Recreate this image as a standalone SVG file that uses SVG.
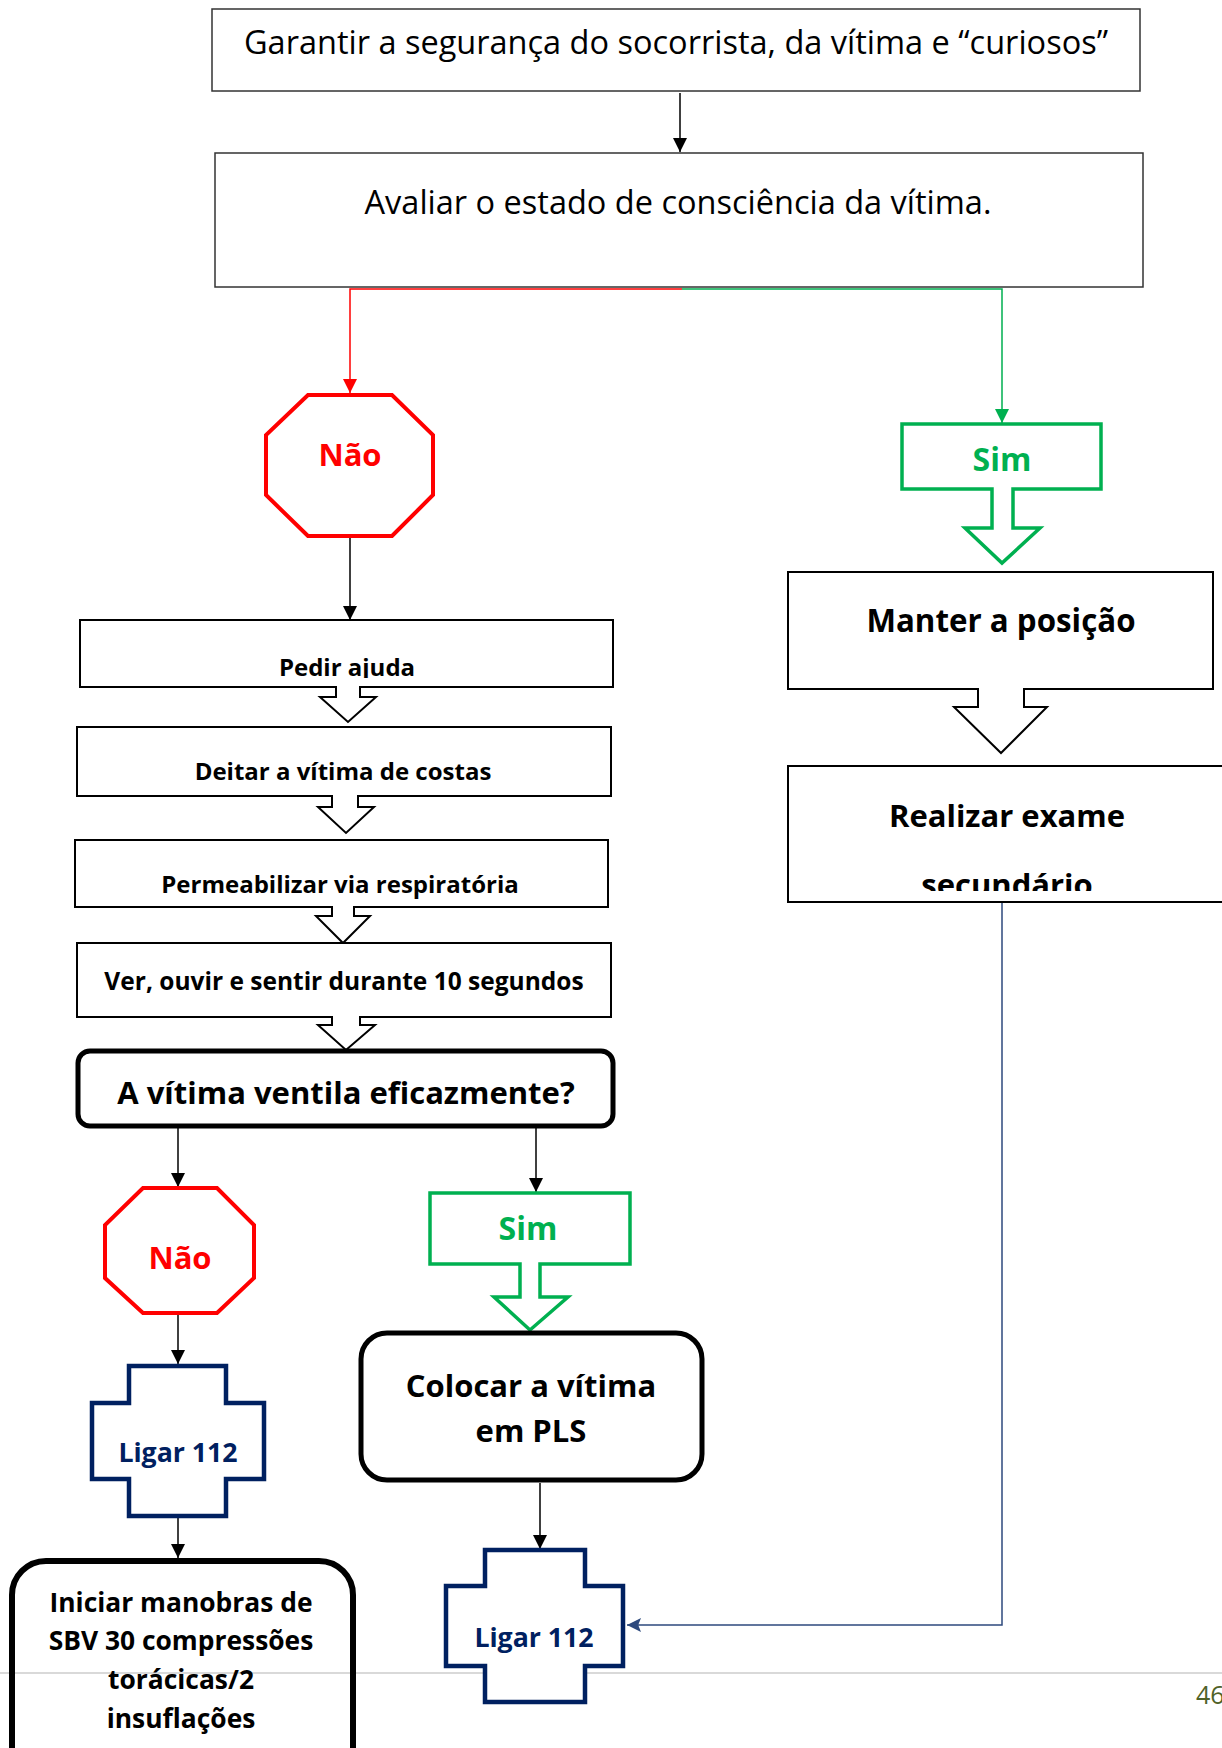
<svg xmlns="http://www.w3.org/2000/svg" width="1222" height="1748" viewBox="0 0 1222 1748">
<style>
text{font-family:"Open Sans","Noto Sans","Liberation Sans",sans-serif;text-anchor:middle}
.reg{font-size:32.5px;fill:#000}
.b{font-weight:700;fill:#000}
.box{fill:#fff;stroke:#000;stroke-width:2}
.thin{fill:#fff;stroke:#333;stroke-width:1.5}
.red{fill:#fff;stroke:#ff0000;stroke-width:4}
.grn{fill:#fff;stroke:#00b050;stroke-width:3.5}
.navy{fill:#fff;stroke:#002060;stroke-width:4.5}
.rnd{fill:#fff;stroke:#000;stroke-width:5}
.tr{fill:#ff0000;font-weight:700;font-size:31px}
.tg{fill:#00b050;font-weight:700;font-size:32px}
.tn{fill:#002060;font-weight:700;font-size:26.7px}
.c{fill:none;stroke-width:1.5}
</style>
<defs>
<marker id="ak" viewBox="0 0 10 10" refX="10" refY="5" markerWidth="14" markerHeight="14" markerUnits="userSpaceOnUse" orient="auto"><path d="M0,0 L10,5 L0,10 z" fill="#000"/></marker>
<marker id="ar" viewBox="0 0 10 10" refX="10" refY="5" markerWidth="14" markerHeight="14" markerUnits="userSpaceOnUse" orient="auto"><path d="M0,0 L10,5 L0,10 z" fill="#ff0000"/></marker>
<marker id="ag" viewBox="0 0 10 10" refX="10" refY="5" markerWidth="14" markerHeight="14" markerUnits="userSpaceOnUse" orient="auto"><path d="M0,0 L10,5 L0,10 z" fill="#00b050"/></marker>
<marker id="ab" viewBox="0 0 10 10" refX="10" refY="5" markerWidth="14" markerHeight="14" markerUnits="userSpaceOnUse" orient="auto"><path d="M0,0 L10,5 L0,10 L2,5 z" fill="#2e4a7d"/></marker>
<clipPath id="cPedir"><rect x="80" y="620" width="533" height="58"/></clipPath>
<clipPath id="cPerm"><rect x="75" y="840" width="533" height="61"/></clipPath>
<clipPath id="cReal"><rect x="788" y="766" width="434" height="125"/></clipPath>
</defs>

<line x1="0" y1="1673" x2="1222" y2="1673" stroke="#d9d9d9" stroke-width="2"/>

<g id="connectors">
<line class="c" x1="680" y1="93" x2="680" y2="152" stroke="#000" marker-end="url(#ak)"/>
<polyline class="c" points="682,289 350,289 350,393" stroke="#ff0000" marker-end="url(#ar)"/>
<polyline class="c" points="682,289 1002,289 1002,423" stroke="#00b050" marker-end="url(#ag)"/>
<line class="c" x1="350" y1="536" x2="350" y2="620" stroke="#000" marker-end="url(#ak)"/>
<line class="c" x1="178" y1="1128" x2="178" y2="1187" stroke="#000" marker-end="url(#ak)"/>
<line class="c" x1="536" y1="1128" x2="536" y2="1192" stroke="#000" marker-end="url(#ak)"/>
<line class="c" x1="178" y1="1314" x2="178" y2="1364" stroke="#000" marker-end="url(#ak)"/>
<line class="c" x1="178" y1="1518" x2="178" y2="1558" stroke="#000" marker-end="url(#ak)"/>
<line class="c" x1="540" y1="1483" x2="540" y2="1549" stroke="#000" marker-end="url(#ak)"/>
<polyline class="c" points="1002,903 1002,1625 627,1625" stroke="#2e4a7d" marker-end="url(#ab)"/>
</g>

<g id="n-garantir">
<rect class="thin" x="212" y="9" width="928" height="82"/>
<text class="reg" x="676" y="54">Garantir a segurança do socorrista, da vítima e “curiosos”</text>
</g>

<g id="n-avaliar">
<rect class="thin" x="215" y="153" width="928" height="134"/>
<text class="reg" x="678" y="214">Avaliar o estado de consciência da vítima.</text>
</g>

<g id="n-nao1">
<polygon class="red" points="308,395 392,395 433,435 433,495 392,536 308,536 266,495 266,435"/>
<text class="tr" x="350" y="466">Não</text>
</g>

<g id="n-sim1">
<path class="grn" d="M902,424 H1101 V489 H1013 V528 H1040 L1002,563 L965,528 H992 V489 H902 Z"/>
<text class="tg" x="1002" y="471">Sim</text>
</g>

<g id="n-manter">
<path class="box" d="M788,572 H1213 V689 H1024 V707 H1047 L1001,753 L954,707 H978 V689 H788 Z"/>
<text class="b" font-size="31.3" x="1001" y="632">Manter a posição</text>
</g>

<g id="n-realizar">
<rect class="box" x="788" y="766" width="450" height="136"/>
<g clip-path="url(#cReal)">
<text class="b" font-size="31" x="1007" y="827">Realizar exame</text>
<text class="b" font-size="31" x="1007" y="896">secundário</text>
</g>
</g>

<g id="n-pedir">
<path class="box" d="M80,620 H613 V687 H360 V697 H376 L348,722 L320,697 H336 V687 H80 Z"/>
<text class="b" font-size="24" x="347" y="676" clip-path="url(#cPedir)">Pedir ajuda</text>
</g>

<g id="n-deitar">
<path class="box" d="M77,727 H611 V796 H358 V807 H374 L346,833 L318,807 H332 V796 H77 Z"/>
<text class="b" font-size="24" x="343" y="780">Deitar a vítima de costas</text>
</g>

<g id="n-perm">
<path class="box" d="M75,840 H608 V907 H354 V916 H370 L343,943 L316,916 H332 V907 H75 Z"/>
<text class="b" font-size="24" x="340" y="893" clip-path="url(#cPerm)">Permeabilizar via respiratória</text>
</g>

<g id="n-ver">
<path class="box" d="M77,943 H611 V1017 H360 V1025 H375 L346,1050 L318,1025 H332 V1017 H77 Z"/>
<text class="b" font-size="24.5" x="344" y="990">Ver, ouvir e sentir durante 10 segundos</text>
</g>

<g id="n-ventila">
<rect class="rnd" x="78" y="1051" width="535" height="75" rx="12"/>
<text class="b" font-size="31" x="346" y="1104">A vítima ventila eficazmente?</text>
</g>

<g id="n-nao2">
<polygon class="red" points="143,1188 217,1188 254,1225 254,1278 217,1313 143,1313 105,1278 105,1225"/>
<text class="tr" x="180" y="1269">Não</text>
</g>

<g id="n-sim2">
<path class="grn" d="M430,1193 H630 V1264 H540 V1297 H568 L530,1330 L494,1297 H520 V1264 H430 Z"/>
<text class="tg" x="528" y="1240">Sim</text>
</g>

<g id="n-colocar">
<rect class="rnd" x="361" y="1333" width="341" height="147" rx="26" stroke-width="6"/>
<text class="b" font-size="31" x="531" y="1397">Colocar a vítima</text>
<text class="b" font-size="31" x="531" y="1442">em PLS</text>
</g>

<g id="n-ligar1">
<path class="navy" d="M129,1366 H226 V1403 H264 V1479 H226 V1516 H129 V1479 H92 V1403 H129 Z"/>
<text class="tn" x="178" y="1462">Ligar 112</text>
</g>

<g id="n-iniciar">
<rect x="12" y="1561" width="341" height="230" rx="34" fill="none" stroke="#000" stroke-width="6"/>
<text class="b" font-size="26.4" x="181" y="1612">Iniciar manobras de</text>
<text class="b" font-size="26.4" x="181" y="1650">SBV 30 compressões</text>
<text class="b" font-size="26.4" x="181" y="1689">torácicas/2</text>
<text class="b" font-size="26.4" x="181" y="1728">insuflações</text>
</g>

<g id="n-ligar2">
<path class="navy" d="M485,1550 H585 V1586 H623 V1666 H585 V1702 H485 V1666 H446 V1586 H485 Z"/>
<text class="tn" x="534" y="1647">Ligar 112</text>
</g>

<text x="1196" y="1704" font-size="25" fill="#4f6228" style="text-anchor:start">46</text>
</svg>
